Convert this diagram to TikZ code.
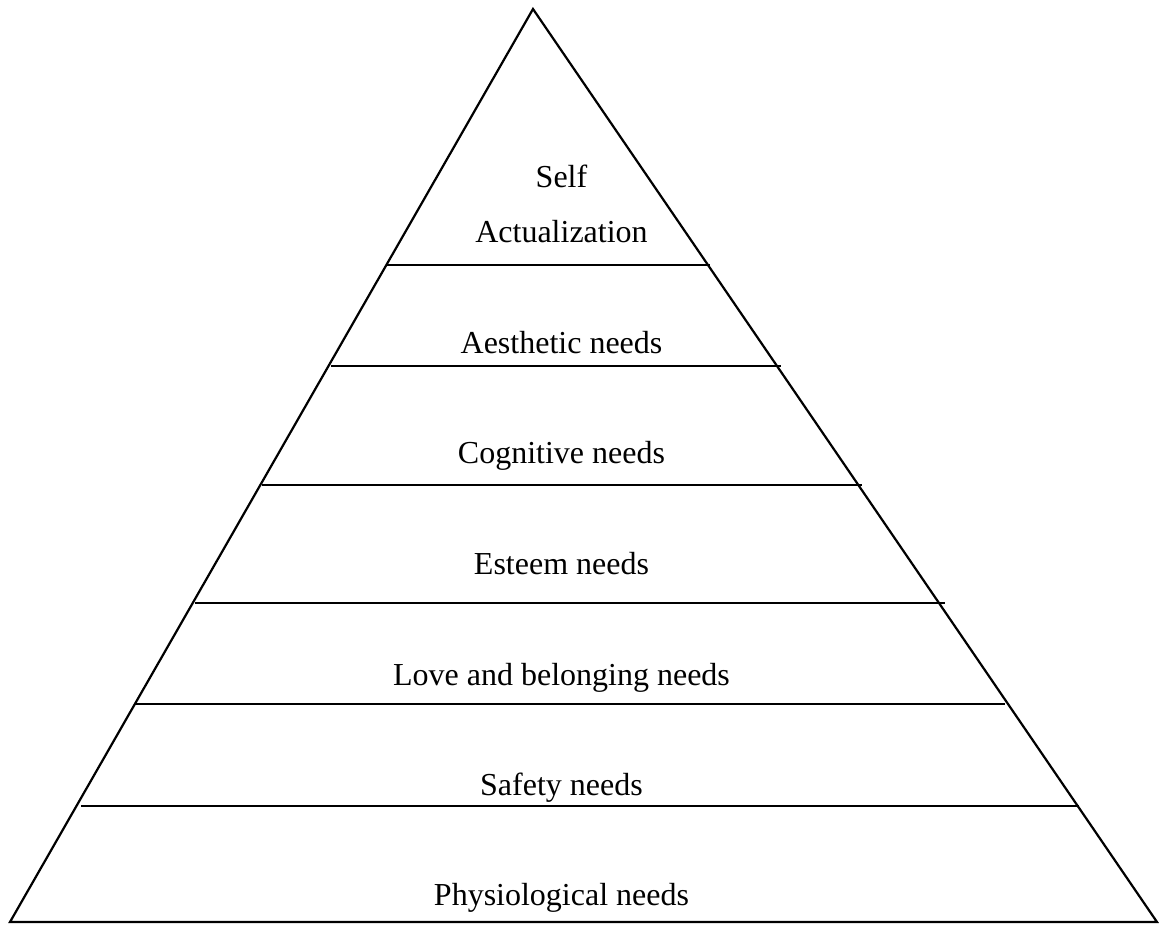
\documentclass[tikz,border=0pt]{standalone}
\usepackage{fontspec}
\setmainfont{Liberation Serif}
\begin{document}
\begin{tikzpicture}[x=1pt,y=-1pt,
  edge/.style={line width=2.2pt,line join=miter},
  level/.style={line width=2.4pt},
  lbl/.style={anchor=base,inner sep=0pt,font=\fontsize{32}{38}\selectfont}]
\useasboundingbox (0,0) rectangle (1159,924);
% triangle
\coordinate (apex) at (533,9);
\coordinate (bl) at (10,922);
\coordinate (br) at (1157,922);
\draw[edge] (bl) -- (apex) -- (br) -- cycle;
% level lines
\coordinate (l1a) at (387,265); \coordinate (l1b) at (710,265);
\coordinate (l2a) at (331,366); \coordinate (l2b) at (781,366);
\coordinate (l3a) at (262,485); \coordinate (l3b) at (862,485);
\coordinate (l4a) at (195,603); \coordinate (l4b) at (945,603);
\coordinate (l5a) at (135,704); \coordinate (l5b) at (1005,704);
\coordinate (l6a) at (81,806);  \coordinate (l6b) at (1079,806);
\draw[level] (l1a) -- (l1b);
\draw[level] (l2a) -- (l2b);
\draw[level] (l3a) -- (l3b);
\draw[level] (l4a) -- (l4b);
\draw[level] (l5a) -- (l5b);
\draw[level] (l6a) -- (l6b);
% labels
\node[lbl] (self) at (561.5,187) {Self};
\node[lbl] (act) at (561.5,242) {Actualization};
\node[lbl] (aes) at (561.5,353) {Aesthetic needs};
\node[lbl] (cog) at (561.5,463) {Cognitive needs};
\node[lbl] (est) at (561.5,574) {Esteem needs};
\node[lbl] (love) at (561.5,685) {Love and belonging needs};
\node[lbl] (safe) at (561.5,795) {Safety needs};
\node[lbl] (phys) at (561.5,905) {Physiological needs};
\end{tikzpicture}
\end{document}
